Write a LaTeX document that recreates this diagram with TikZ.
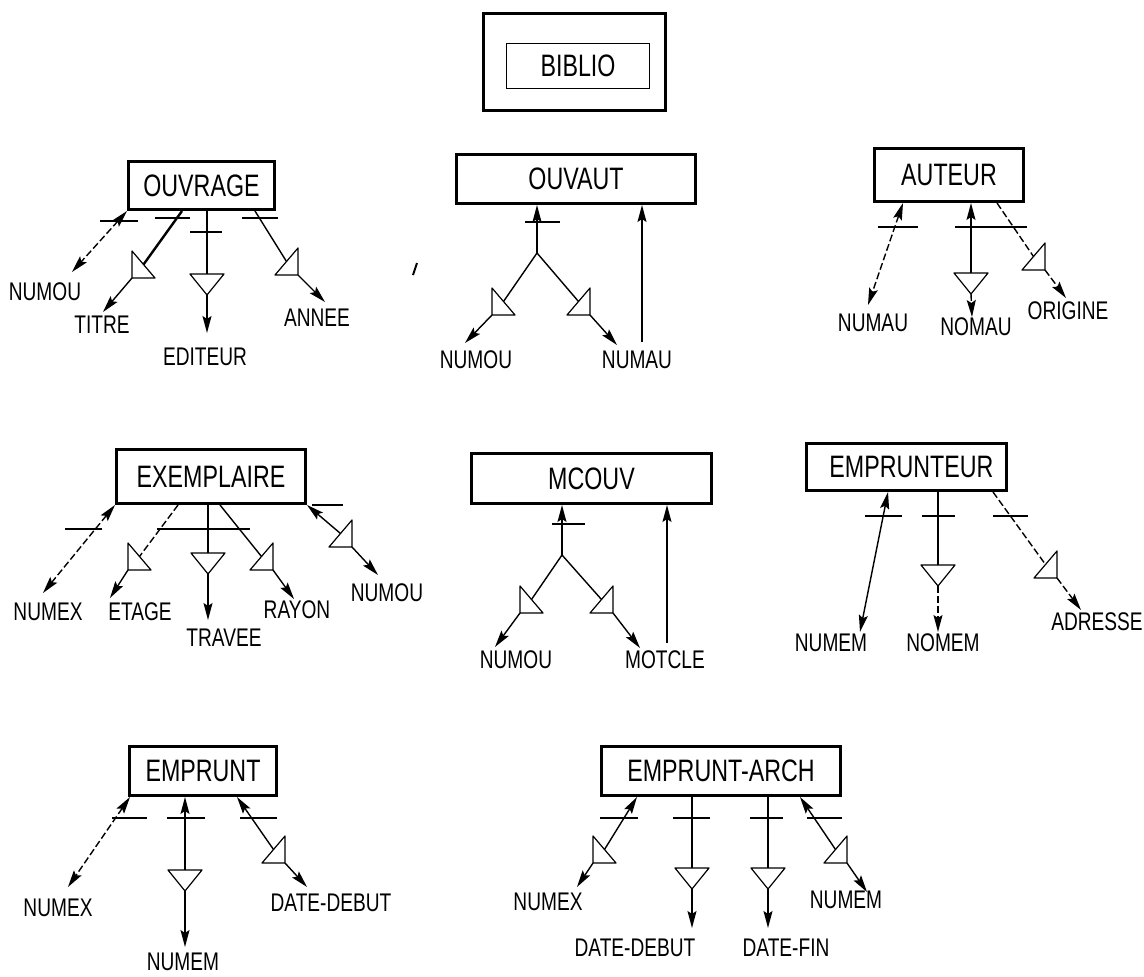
\documentclass[tikz,border=0pt]{standalone}
\usepackage{fontspec}
\usetikzlibrary{arrows.meta,calc}
\newfontfamily\plotfont[FakeStretch=0.75]{Liberation Sans}

\begin{document}
\begin{tikzpicture}[x=1pt,y=-1pt,
  tipto/.style={-{Stealth[length=17pt,width=9pt,inset=3pt]}},
  tipfrom/.style={{Stealth[length=17pt,width=9pt,inset=3pt]}-},
  tipboth/.style={{Stealth[length=17pt,width=9pt,inset=3pt]}-{Stealth[length=17pt,width=9pt,inset=3pt]}},
  entity/.style={draw,line width=3pt,inner sep=0pt,font=\plotfont\fontsize{31}{31}\selectfont},
  attr/.style={inner sep=0pt,font=\plotfont\fontsize{25.5}{25.5}\selectfont},
  link/.style={line width=1.4pt},
  dlink/.style={line width=1.4pt,dash pattern=on 7pt off 3pt},
  idbar/.style={line width=1.4pt},
  % funnel symbols on attribute links
  dtri/.pic={\draw[line width=1.2pt,line join=round] (-17,0) -- (17,0) -- (0,21) -- cycle;
             \coordinate (-in) at (0,0); \coordinate (-out) at (0,21);},
  ltri/.pic={\draw[line width=1.2pt,line join=round] (0,-27) -- (0,0) -- (23,0) -- cycle;
             \coordinate (-in) at (11.5,-13.5); \coordinate (-out) at (0,0);},
  rtri/.pic={\draw[line width=1.2pt,line join=round] (0,-27) -- (0,0) -- (-23,0) -- cycle;
             \coordinate (-in) at (-11.5,-13.5); \coordinate (-out) at (0,0);}]
\useasboundingbox (0,0) rectangle (1144,977);

% ---------- BIBLIO ----------
\node[entity,minimum width=182pt,minimum height=97pt] (biblio-frame) at (574.5,62) {};
\node[draw,line width=1.3pt,inner sep=0pt,minimum width=143pt,minimum height=45pt,
      font=\plotfont\fontsize{31}{31}\selectfont] (biblio) at (578,66) {BIBLIO};

% ---------- OUVRAGE ----------
\node[entity,minimum width=146pt,minimum height=48pt] (ouvrage) at (201.5,185.5) {OUVRAGE\hspace{22pt}};
\node[attr] (ouvrage-numou) at (45,292) {NUMOU};
\node[attr] (ouvrage-titre) at (102,325) {TITRE};
\node[attr] (ouvrage-editeur) at (205,357) {EDITEUR};
\node[attr] (ouvrage-annee) at (317,318) {ANNEE};
\pic (ot) at (132,278) {ltri};
\pic (oe) at (207,274) {dtri};
\pic (oa) at (298,275) {rtri};
\coordinate (ouvrage-numou-tip) at (72,272);
\coordinate (ouvrage-titre-tip) at (103,312);
\coordinate (ouvrage-editeur-tip) at (207,333);
\coordinate (ouvrage-annee-tip) at (325,302);
\draw[dlink,tipboth] (ouvrage.south west) -- (ouvrage-numou-tip);
\draw[line width=2.4pt] ($(ouvrage.south west)+(55,0)$) -- (ot-in);
\draw[link,tipto] (ot-out) -- (ouvrage-titre-tip);
\draw[link] ($(ouvrage.south west)+(80,0)$) -- (oe-in);
\draw[link,tipto] (oe-out) -- (ouvrage-editeur-tip);
\draw[link] ($(ouvrage.south west)+(128,0)$) -- (oa-in);
\draw[link,tipto] (oa-out) -- (ouvrage-annee-tip);
\draw[idbar] (100,221) -- (138,221);
\draw[idbar] (155,218) -- (190,218);
\draw[idbar] (190,232) -- (222,232);
\draw[idbar] (242,218) -- (278,218);

% ---------- OUVAUT ----------
\node[entity,minimum width=239pt,minimum height=49pt] (ouvaut) at (576,179) {OUVAUT\hspace{24pt}};
\node[attr] (ouvaut-numou) at (476,360) {NUMOU};
\node[attr] (ouvaut-numau) at (637,360) {NUMAU};
\coordinate (ouvaut-fork) at (537,253);
\pic (vl) at (492,315) {ltri};
\pic (vr) at (590,315) {rtri};
\coordinate (ouvaut-numou-tip) at (465,343);
\coordinate (ouvaut-numau-tip) at (617,345);
\coordinate (ouvaut-ref-end) at (642,342);
\draw[link,tipfrom] ($(ouvaut.south west)+(82,0)$) -- (ouvaut-fork);
\draw[link] (ouvaut-fork) -- (vl-in);
\draw[link,tipto] (vl-out) -- (ouvaut-numou-tip);
\draw[link] (ouvaut-fork) -- (vr-in);
\draw[link,tipto] (vr-out) -- (ouvaut-numau-tip);
\draw[link,tipfrom] ($(ouvaut.south west)+(187,0)$) -- (ouvaut-ref-end);
\draw[idbar] (525,222) -- (560,222);
\draw[line width=2pt] (413,275) -- (417,263);

% ---------- AUTEUR ----------
\node[entity,minimum width=149pt,minimum height=53pt] (auteur) at (949,175) {AUTEUR\hspace{8pt}};
\node[attr] (auteur-numau) at (873,323) {NUMAU};
\node[attr] (auteur-nomau) at (976,327) {NOMAU};
\node[attr] (auteur-origine) at (1068,311) {ORIGINE};
\pic (an) at (971,273) {dtri};
\pic (ao) at (1045,270) {rtri};
\coordinate (auteur-numau-tip) at (868,305);
\coordinate (auteur-nomau-tip) at (972,317);
\coordinate (auteur-origine-tip) at (1066,298);
\draw[dlink,tipboth] ($(auteur.south west)+(30,0)$) -- (auteur-numau-tip);
\draw[link,tipfrom] ($(auteur.south west)+(98,0)$) -- (an-in);
\draw[dlink,tipto] (an-out) -- (auteur-nomau-tip);
\draw[dlink] ($(auteur.south west)+(124,0)$) -- (ao-in);
\draw[dlink,tipto] (ao-out) -- (auteur-origine-tip);
\draw[idbar] (878,227) -- (918,227);
\draw[idbar] (955,227) -- (1027,227);

% ---------- EXEMPLAIRE ----------
\node[entity,minimum width=189pt,minimum height=54pt] (exemplaire) at (211,476.5) {EXEMPLAIRE\hspace{14pt}};
\node[attr] (exemplaire-numex) at (48,612) {NUMEX};
\node[attr] (exemplaire-etage) at (140,612) {ETAGE};
\node[attr] (exemplaire-travee) at (224,638) {TRAVEE};
\node[attr] (exemplaire-rayon) at (297,610) {RAYON};
\node[attr] (exemplaire-numou) at (387,593) {NUMOU};
\pic (xe) at (128,570) {ltri};
\pic (xt) at (208,553) {dtri};
\pic (xr) at (273,570) {rtri};
\pic (xn) at (352,547) {rtri};
\coordinate (exemplaire-numex-tip) at (43,593);
\coordinate (exemplaire-etage-tip) at (110,598);
\coordinate (exemplaire-travee-tip) at (208,620);
\coordinate (exemplaire-rayon-tip) at (294,599);
\coordinate (exemplaire-numou-tip) at (378,575);
\draw[dlink,tipboth] (exemplaire.south west) -- (exemplaire-numex-tip);
\draw[dlink] ($(exemplaire.south west)+(63,0)$) -- (xe-in);
\draw[link,tipto] (xe-out) -- (exemplaire-etage-tip);
\draw[link] ($(exemplaire.south west)+(93,0)$) -- (xt-in);
\draw[link,tipto] (xt-out) -- (exemplaire-travee-tip);
\draw[link] ($(exemplaire.south west)+(105,0)$) -- (xr-in);
\draw[link,tipto] (xr-out) -- (exemplaire-rayon-tip);
\draw[link,tipfrom] (exemplaire.south east) -- (xn-in);
\draw[link,tipto] (xn-out) -- (exemplaire-numou-tip);
\draw[idbar] (65,529) -- (102,529);
\draw[idbar] (157,529) -- (250,529);
\draw[idbar] (312,505) -- (343,505);

% ---------- MCOUV ----------
\node[entity,minimum width=240pt,minimum height=50pt] (mcouv) at (591.5,478.5) {MCOUV\hspace{32pt}};
\node[attr] (mcouv-numou) at (516,660) {NUMOU};
\node[attr] (mcouv-motcle) at (665,660) {MOTCLE};
\coordinate (mcouv-fork) at (562,555);
\pic (ml) at (520,613) {ltri};
\pic (mr) at (613,613) {rtri};
\coordinate (mcouv-numou-tip) at (495,647);
\coordinate (mcouv-motcle-tip) at (640,648);
\coordinate (mcouv-ref-end) at (667,643);
\draw[link,tipfrom] ($(mcouv.south west)+(92,0)$) -- (mcouv-fork);
\draw[link] (mcouv-fork) -- (ml-in);
\draw[link,tipto] (ml-out) -- (mcouv-numou-tip);
\draw[link] (mcouv-fork) -- (mr-in);
\draw[link,tipto] (mr-out) -- (mcouv-motcle-tip);
\draw[link,tipfrom] ($(mcouv.south west)+(197,0)$) -- (mcouv-ref-end);
\draw[idbar] (552,524) -- (585,524);

% ---------- EMPRUNTEUR ----------
\node[entity,minimum width=200pt,minimum height=47pt] (emprunteur) at (906.5,467) {\hspace{10pt}EMPRUNTEUR};
\node[attr] (emprunteur-numem) at (831,643) {NUMEM};
\node[attr] (emprunteur-nomem) at (943,643) {NOMEM};
\node[attr] (emprunteur-adresse) at (1097,622) {ADRESSE};
\pic (rn) at (938,565) {dtri};
\pic (ra) at (1057,578) {rtri};
\coordinate (emprunteur-numem-tip) at (860,632);
\coordinate (emprunteur-nomem-tip) at (938,632);
\coordinate (emprunteur-adresse-tip) at (1081,610);
\draw[link,tipboth] ($(emprunteur.south west)+(83,0)$) -- (emprunteur-numem-tip);
\draw[link] ($(emprunteur.south west)+(133,0)$) -- (rn-in);
\draw[dlink,tipto] (rn-out) -- (emprunteur-nomem-tip);
\draw[dlink] ($(emprunteur.south west)+(188,0)$) -- (ra-in);
\draw[dlink,tipto] (ra-out) -- (emprunteur-adresse-tip);
\draw[idbar] (865,516) -- (902,516);
\draw[idbar] (922,516) -- (955,516);
\draw[idbar] (993,516) -- (1028,516);

% ---------- EMPRUNT ----------
\node[entity,minimum width=147pt,minimum height=49pt] (emprunt) at (203,771) {EMPRUNT\hspace{10pt}};
\node[attr] (emprunt-numex) at (58,908) {NUMEX};
\node[attr] (emprunt-numem) at (183,962) {NUMEM};
\node[attr] (emprunt-datedebut) at (331,903) {DATE-DEBUT};
\pic (pn) at (185,870) {dtri};
\pic (pd) at (285,863) {rtri};
\coordinate (emprunt-numex-tip) at (68,887);
\coordinate (emprunt-numem-tip) at (185,947);
\coordinate (emprunt-datedebut-tip) at (307,887);
\draw[dlink,tipboth] ($(emprunt.south west)+(2,0)$) -- (emprunt-numex-tip);
\draw[link,tipfrom] ($(emprunt.south west)+(57,0)$) -- (pn-in);
\draw[link,tipto] (pn-out) -- (emprunt-numem-tip);
\draw[link,tipfrom] ($(emprunt.south west)+(109,0)$) -- (pd-in);
\draw[link,tipto] (pd-out) -- (emprunt-datedebut-tip);
\draw[idbar] (112,818) -- (147,818);
\draw[idbar] (167,818) -- (205,818);
\draw[idbar] (240,818) -- (277,818);

% ---------- EMPRUNT-ARCH ----------
\node[entity,minimum width=239pt,minimum height=49pt] (archive) at (721,771) {EMPRUNT-ARCH};
\node[attr] (archive-numex) at (548,902) {NUMEX};
\node[attr] (archive-datedebut) at (635,948) {DATE-DEBUT};
\node[attr] (archive-datefin) at (786,948) {DATE-FIN};
\node[attr] (archive-numem) at (846,900) {NUMEM};
\pic (hx) at (593,863) {ltri};
\pic (hd) at (692,868) {dtri};
\pic (hf) at (768,868) {dtri};
\pic (hm) at (847,863) {rtri};
\coordinate (archive-numex-tip) at (577,887);
\coordinate (archive-datedebut-tip) at (692,928);
\coordinate (archive-datefin-tip) at (768,928);
\coordinate (archive-numem-tip) at (867,892);
\draw[link,tipfrom] ($(archive.south west)+(37,0)$) -- (hx-in);
\draw[link,tipto] (hx-out) -- (archive-numex-tip);
\draw[link] ($(archive.south west)+(92,0)$) -- (hd-in);
\draw[link,tipto] (hd-out) -- (archive-datedebut-tip);
\draw[link] ($(archive.south west)+(168,0)$) -- (hf-in);
\draw[link,tipto] (hf-out) -- (archive-datefin-tip);
\draw[link,tipfrom] ($(archive.south west)+(200,0)$) -- (hm-in);
\draw[link,tipto] (hm-out) -- (archive-numem-tip);
\draw[idbar] (600,818) -- (638,818);
\draw[idbar] (673,818) -- (710,818);
\draw[idbar] (750,818) -- (783,818);
\draw[idbar] (807,818) -- (842,818);
\end{tikzpicture}
\end{document}
